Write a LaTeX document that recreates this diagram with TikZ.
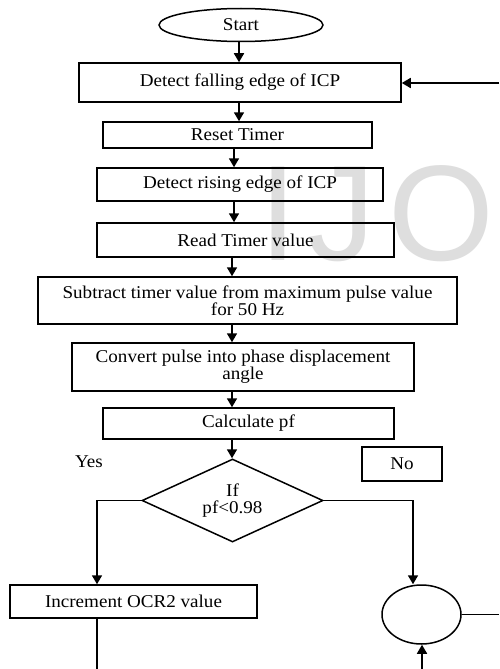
\documentclass[tikz,border=0pt]{standalone}
\usepackage{fontspec}
\setmainfont{Liberation Serif}[FakeStretch=1.06]
\newfontfamily\wmfont{Liberation Sans}
\usetikzlibrary{shapes.geometric,arrows.meta}
\definecolor{wm}{RGB}{222,222,222}
\begin{document}
\begin{tikzpicture}[x=1pt,y=-1pt,
  font=\fontsize{18}{17}\selectfont,
  line width=1.5pt,
  box/.style={draw, rectangle, inner sep=0pt, align=center},
  conn/.style={line width=1.7pt},
  arr/.style={conn, -{Triangle[width=10pt,length=9pt]}},
  wmark/.style={text=wm, inner sep=0pt, font=\wmfont\fontsize{136}{136}\selectfont}]
\useasboundingbox (0,0) rectangle (499,669);
\fill[white] (0,0) rectangle (499,669);
% watermark
\begin{scope}
\clip (0,0) rectangle (499,669);
\node[wmark] (wI) at (278.5,214) {I};
\node[wmark] (wJ) at (341,214) {J};
\node[wmark] (wO) at (441,214) {O};
\end{scope}
% column coordinates
\coordinate (c1) at (239,0);
\coordinate (c2) at (234,0);
\coordinate (c3) at (232,0);
\coordinate (yc) at (97,0);
\coordinate (nc) at (413,0);
\coordinate (bot) at (0,669);
\coordinate (re) at (499,0);
\coordinate (fb) at (499,83);
\coordinate (cb) at (422,669);
% nodes
\node[draw, ellipse, inner sep=0pt, minimum width=164pt, minimum height=33pt] (start) at (241,25) {Start};
\node[box, minimum width=322pt, minimum height=39pt] (fall) at (240,82.5) {Detect falling edge of ICP};
\node[box, minimum width=269pt, minimum height=26pt] (reset) at (237.5,135) {Reset Timer};
\node[box, minimum width=286pt, minimum height=33pt] (rise) at (240,184.5) {Detect rising edge of ICP};
\node[box, minimum width=297pt, minimum height=34pt] (read) at (245.5,240) {Read Timer value};
\node[box, minimum width=419pt, minimum height=47pt] (sub) at (247.5,300.5) {Subtract timer value from maximum pulse value\\for 50 Hz};
\node[box, minimum width=342pt, minimum height=48pt] (conv) at (243,367) {Convert pulse into phase displacement\\angle};
\node[box, minimum width=291pt, minimum height=31pt] (calc) at (248.5,423.5) {Calculate pf};
\node[draw, diamond, inner sep=0pt, shape aspect=2.2, minimum width=181pt, minimum height=83pt, align=center] (dia) at (232.5,500.5) {If\\pf<0.98};
\node[inner sep=0pt] (yes) at (89,462) {Yes};
\node[box, minimum width=80pt, minimum height=34pt] (no) at (402,464) {No};
\node[box, minimum width=247pt, minimum height=33pt] (inc) at (133.5,601.5) {Increment OCR2 value};
\node[draw, ellipse, inner sep=0pt, minimum width=79pt, minimum height=59pt] (circ) at (421.5,614.5) {};
% connectors
\draw[arr] (start.south -| c1) -- (fall.north -| c1);
\draw[arr] (fall.south -| c1) -- (reset.north -| c1);
\draw[arr] (reset.south -| c2) -- (rise.north -| c2);
\draw[arr] (rise.south -| c2) -- (read.north -| c2);
\draw[arr] (read.south -| c3) -- (sub.north -| c3);
\draw[arr] (sub.south -| c3) -- (conv.north -| c3);
\draw[arr] (conv.south -| c3) -- (calc.north -| c3);
\draw[arr] (calc.south -| c3) -- (dia.north -| c3);
\draw[arr] (fb) -- (fb -| fall.east);
\draw[arr] (dia.west) -| (yc |- inc.north);
\draw[arr] (dia.east) -| (nc |- circ.north);
\draw[conn] (inc.south -| yc) -- (yc |- bot);
\draw[arr] (cb) -- (cb |- circ.south);
\draw[conn] (circ.east) -- (circ.east -| re);
\end{tikzpicture}
\end{document}
